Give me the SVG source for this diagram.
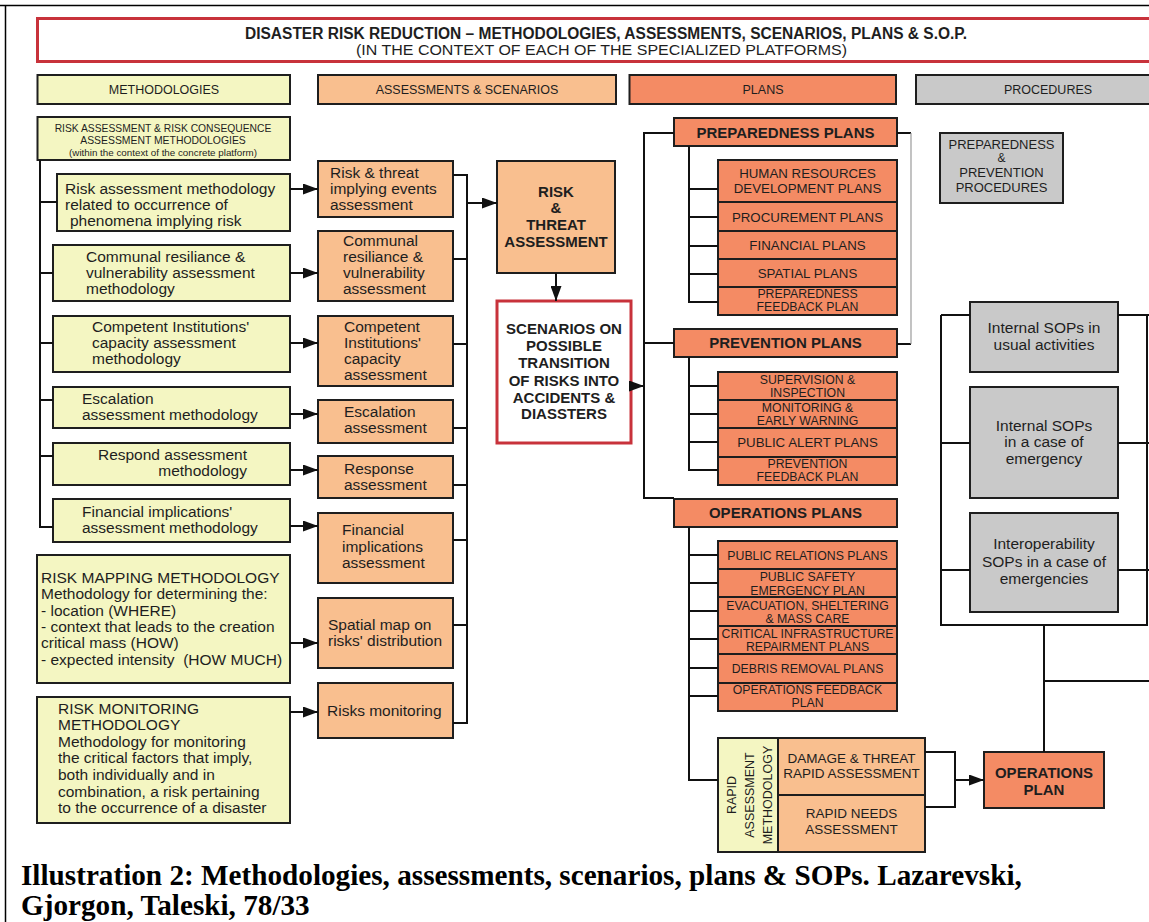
<svg xmlns="http://www.w3.org/2000/svg" width="1149" height="922" viewBox="0 0 1149 922">
<defs>
<marker id="arrow" markerUnits="userSpaceOnUse" markerWidth="15" markerHeight="11" refX="15" refY="5.5" orient="auto">
<path d="M0,0 L15,5.5 L0,11 z" fill="#111"/>
</marker>
<style>
.meth{fill:#f4f6c2;stroke:#1e1e1e;stroke-width:2}
.asm{fill:#f9bf8f;stroke:#1e1e1e;stroke-width:2}
.plan{fill:#f48b64;stroke:#1e1e1e;stroke-width:2}
.proc{fill:#c9c9c9;stroke:#1e1e1e;stroke-width:2}
.red{fill:#fff;stroke:#c8323b;stroke-width:3}
text{font-family:"Liberation Sans",Arial,Helvetica,sans-serif;fill:#1e1e1e}
.t{font-size:15.5px}
.r{text-anchor:end}
.hd{font-size:12.5px;text-anchor:middle}
.b{font-size:15px;font-weight:bold;text-anchor:middle}
.s13{font-size:13.3px;text-anchor:middle}
.s12{font-size:12.3px;text-anchor:middle}
.c{text-anchor:middle}
.wire{fill:none;stroke:#111;stroke-width:2}
.arr{fill:none;stroke:#111;stroke-width:2;marker-end:url(#arrow)}
.thin{fill:none;stroke:#9a9a9a;stroke-width:1.2}
.cap{font-family:"Liberation Serif","Times New Roman",serif;font-weight:bold;font-size:29.2px;fill:#000}
</style>
</defs>
<rect width="1149" height="922" fill="#fff"/>

<!-- page frame -->
<g id="frame"><path d="M0,5.5 H1149 M5.5,5.5 V922" fill="none" stroke="#000" stroke-width="1.5"/></g>

<!-- title banner -->
<g id="title">
<rect x="37.5" y="18.5" width="1130" height="43" class="red"/>
<text x="245" y="39" font-size="16" font-weight="bold" textLength="722" lengthAdjust="spacingAndGlyphs">DISASTER RISK REDUCTION – METHODOLOGIES, ASSESSMENTS, SCENARIOS, PLANS &amp; S.O.P.</text>
<text x="356" y="55" font-size="14.5" textLength="491" lengthAdjust="spacingAndGlyphs">(IN THE CONTEXT OF EACH OF THE SPECIALIZED PLATFORMS)</text>
</g>

<!-- column headers -->
<g id="hdr-methodologies"><rect x="37.5" y="75" width="252.5" height="29" class="meth"/><text x="164" y="94" class="hd">METHODOLOGIES</text></g>
<g id="hdr-assessments"><rect x="318" y="75" width="298" height="29" class="asm"/><text x="467" y="94" class="hd">ASSESSMENTS &amp; SCENARIOS</text></g>
<g id="hdr-plans"><rect x="629.5" y="75" width="266.5" height="29" class="plan"/><text x="763" y="94" class="hd">PLANS</text></g>
<g id="hdr-procedures"><rect x="916" y="75" width="250" height="29" class="proc"/><text x="1048" y="94" class="hd">PROCEDURES</text></g>

<!-- methodologies column -->
<g id="m-group">
<rect x="37.5" y="117" width="252.5" height="43" class="meth"/>
<text x="163" y="132" class="c" font-size="10.3">RISK ASSESSMENT &amp; RISK CONSEQUENCE</text>
<text x="163" y="144" class="c" font-size="10.4">ASSESSMENT METHODOLOGIES</text>
<text x="163" y="156" class="c" font-size="9.8">(within the context of the concrete platform)</text>
</g>
<g id="m-risk"><rect x="57" y="174" width="233" height="57" class="meth"/>
<text class="t" x="65" y="194">Risk assessment methodology</text><text class="t" x="65" y="210">related to occurrence of</text><text class="t" x="70" y="226">phenomena implying risk</text></g>
<g id="m-communal"><rect x="53" y="245" width="237" height="56" class="meth"/>
<text class="t" x="86" y="262">Communal resiliance &amp;</text><text class="t" x="86" y="278">vulnerability assessment</text><text class="t" x="86" y="294">methodology</text></g>
<g id="m-capacity"><rect x="53" y="316" width="237" height="56" class="meth"/>
<text class="t" x="92" y="332">Competent Institutions'</text><text class="t" x="92" y="348">capacity assessment</text><text class="t" x="92" y="364">methodology</text></g>
<g id="m-escalation"><rect x="53" y="387" width="237" height="41" class="meth"/>
<text class="t" x="82" y="404">Escalation</text><text class="t" x="82" y="420">assessment methodology</text></g>
<g id="m-respond"><rect x="53" y="443" width="237" height="42" class="meth"/>
<text class="t r" x="247" y="460">Respond assessment</text><text class="t r" x="247" y="476">methodology</text></g>
<g id="m-financial"><rect x="53" y="499" width="237" height="43" class="meth"/>
<text class="t" x="82" y="517">Financial implications'</text><text class="t" x="82" y="533">assessment methodology</text></g>
<g id="m-mapping"><rect x="37" y="555" width="253" height="128" class="meth"/>
<text class="t" x="41" y="583">RISK MAPPING METHODOLOGY</text>
<text class="t" x="41" y="599">Methodology for determining the:</text>
<text class="t" x="41" y="616">- location (WHERE)</text>
<text class="t" x="41" y="632">- context that leads to the creation</text>
<text class="t" x="41" y="648">critical mass (HOW)</text>
<text class="t" x="41" y="665">- expected intensity &#160;(HOW MUCH)</text></g>
<g id="m-monitoring"><rect x="37" y="697" width="253" height="126" class="meth"/>
<text class="t" x="58" y="714">RISK MONITORING</text>
<text class="t" x="58" y="730">METHODOLOGY</text>
<text class="t" x="58" y="747">Methodology for monitoring</text>
<text class="t" x="58" y="763">the critical factors that imply,</text>
<text class="t" x="58" y="780">both individually and in</text>
<text class="t" x="58" y="797">combination, a risk pertaining</text>
<text class="t" x="58" y="813">to the occurrence of a disaster</text></g>

<!-- assessments column -->
<g id="a-risk"><rect x="318" y="161" width="135" height="56" class="asm"/>
<text class="t" x="330" y="178">Risk &amp; threat</text><text class="t" x="330" y="194">implying events</text><text class="t" x="330" y="210">assessment</text></g>
<g id="a-communal"><rect x="318" y="231" width="135" height="70" class="asm"/>
<text class="t" x="343" y="246">Communal</text><text class="t" x="343" y="262">resiliance &amp;</text><text class="t" x="343" y="278">vulnerability</text><text class="t" x="343" y="294">assessment</text></g>
<g id="a-capacity"><rect x="318" y="316" width="135" height="70" class="asm"/>
<text class="t" x="344" y="332">Competent</text><text class="t" x="344" y="348">Institutions'</text><text class="t" x="344" y="364">capacity</text><text class="t" x="344" y="380">assessment</text></g>
<g id="a-escalation"><rect x="318" y="400" width="135" height="43" class="asm"/>
<text class="t" x="344" y="417">Escalation</text><text class="t" x="344" y="433">assessment</text></g>
<g id="a-response"><rect x="318" y="456" width="135" height="42" class="asm"/>
<text class="t" x="344" y="474">Response</text><text class="t" x="344" y="490">assessment</text></g>
<g id="a-financial"><rect x="318" y="513" width="135" height="70" class="asm"/>
<text class="t" x="342" y="535">Financial</text><text class="t" x="342" y="552">implications</text><text class="t" x="342" y="568">assessment</text></g>
<g id="a-spatial"><rect x="318" y="598" width="135" height="70" class="asm"/>
<text class="t" x="328" y="630">Spatial map on</text><text class="t" x="328" y="646">risks' distribution</text></g>
<g id="a-monitoring"><rect x="318" y="683" width="135" height="55" class="asm"/>
<text class="t" x="327" y="716">Risks monitoring</text></g>

<g id="risk-threat"><rect x="497" y="161" width="118" height="112" class="asm"/>
<text class="b" x="556" y="197">RISK</text><text class="b" x="556" y="213">&amp;</text><text class="b" x="556" y="230">THREAT</text><text class="b" x="556" y="247">ASSESSMENT</text></g>
<g id="scenarios"><rect x="497" y="301" width="134" height="142" class="red"/>
<text class="b" x="564" y="334">SCENARIOS ON</text><text class="b" x="564" y="351">POSSIBLE</text><text class="b" x="564" y="368">TRANSITION</text>
<text class="b" x="564" y="386">OF RISKS INTO</text><text class="b" x="564" y="403">ACCIDENTS &amp;</text><text class="b" x="564" y="419">DIASSTERS</text></g>

<!-- plans column -->
<g id="p-preparedness"><rect x="674" y="118" width="223" height="28" class="plan"/><text class="b" x="785.5" y="138">PREPAREDNESS PLANS</text></g>
<g id="p-prep-items">
<rect x="718" y="160" width="179" height="42" class="plan"/><text class="s13" x="807.5" y="178">HUMAN RESOURCES</text><text class="s13" x="807.5" y="193">DEVELOPMENT PLANS</text>
<rect x="718" y="202" width="179" height="29" class="plan"/><text class="s13" x="807.5" y="222">PROCUREMENT PLANS</text>
<rect x="718" y="231" width="179" height="28" class="plan"/><text class="s13" x="807.5" y="250">FINANCIAL PLANS</text>
<rect x="718" y="259" width="179" height="28" class="plan"/><text class="s13" x="807.5" y="278">SPATIAL PLANS</text>
<rect x="718" y="287" width="179" height="28" class="plan"/><text class="s12" x="807.5" y="297.5">PREPAREDNESS</text><text class="s12" x="807.5" y="311">FEEDBACK PLAN</text>
</g>
<g id="p-prevention"><rect x="674" y="329" width="223" height="28" class="plan"/><text class="b" x="785.5" y="348">PREVENTION PLANS</text></g>
<g id="p-prev-items">
<rect x="718" y="372" width="179" height="28" class="plan"/><text class="s12" x="807.5" y="383.5">SUPERVISION &amp;</text><text class="s12" x="807.5" y="397">INSPECTION</text>
<rect x="718" y="400" width="179" height="28" class="plan"/><text class="s12" x="807.5" y="411.5">MONITORING &amp;</text><text class="s12" x="807.5" y="425">EARLY WARNING</text>
<rect x="718" y="428" width="179" height="29" class="plan"/><text class="s13" x="807.5" y="447">PUBLIC ALERT PLANS</text>
<rect x="718" y="457" width="179" height="28" class="plan"/><text class="s12" x="807.5" y="467.5">PREVENTION</text><text class="s12" x="807.5" y="481">FEEDBACK PLAN</text>
</g>
<g id="p-operations"><rect x="674" y="499" width="223" height="28" class="plan"/><text class="b" x="785.5" y="518">OPERATIONS PLANS</text></g>
<g id="p-ops-items">
<rect x="718" y="541" width="179" height="28" class="plan"/><text class="s12" x="807.5" y="559.5">PUBLIC RELATIONS PLANS</text>
<rect x="718" y="569" width="179" height="28" class="plan"/><text class="s12" x="807.5" y="581">PUBLIC SAFETY</text><text class="s12" x="807.5" y="594.5">EMERGENCY PLAN</text>
<rect x="718" y="597" width="179" height="29" class="plan"/><text class="s12" x="807.5" y="609.5">EVACUATION, SHELTERING</text><text class="s12" x="807.5" y="623">&amp; MASS CARE</text>
<rect x="718" y="626" width="179" height="28" class="plan"/><text class="s12" x="807.5" y="637.5" textLength="172" lengthAdjust="spacingAndGlyphs">CRITICAL INFRASTRUCTURE</text><text class="s12" x="807.5" y="651">REPAIRMENT PLANS</text>
<rect x="718" y="654" width="179" height="29" class="plan"/><text class="s12" x="807.5" y="672.5">DEBRIS REMOVAL PLANS</text>
<rect x="718" y="683" width="179" height="28" class="plan"/><text class="s12" x="807.5" y="693.5">OPERATIONS FEEDBACK</text><text class="s12" x="807.5" y="707">PLAN</text>
</g>

<!-- rapid assessment block -->
<g id="rapid-method"><rect x="718" y="738" width="60" height="114" class="meth"/>
<text class="c" font-size="12.5" transform="translate(736,795) rotate(-90)">RAPID</text>
<text class="c" font-size="12.5" transform="translate(754,795) rotate(-90)">ASSESSMENT</text>
<text class="c" font-size="12.5" transform="translate(772,795) rotate(-90)">METHODOLOGY</text></g>
<g id="rapid-damage"><rect x="778" y="738" width="147" height="57" class="asm"/>
<text class="c" font-size="13.5" x="851.5" y="763">DAMAGE &amp; THREAT</text><text class="c" font-size="13.5" x="851.5" y="778">RAPID ASSESSMENT</text></g>
<g id="rapid-needs"><rect x="778" y="795" width="147" height="57" class="asm"/>
<text class="c" font-size="13.5" x="851.5" y="818">RAPID NEEDS</text><text class="c" font-size="13.5" x="851.5" y="834">ASSESSMENT</text></g>
<g id="operations-plan"><rect x="984" y="752" width="120" height="56" class="plan"/>
<text class="b" x="1044" y="778">OPERATIONS</text><text class="b" x="1044" y="795">PLAN</text></g>

<!-- procedures column -->
<g id="proc-prep"><rect x="940" y="133" width="123" height="70" class="proc"/>
<text class="c" font-size="13" x="1001.5" y="149">PREPAREDNESS</text><text class="c" font-size="12" x="1001.5" y="162">&amp;</text>
<text class="c" font-size="13" x="1001.5" y="177">PREVENTION</text><text class="c" font-size="13" x="1001.5" y="192">PROCEDURES</text></g>
<g id="sop-usual"><rect x="970" y="302" width="148" height="70" class="proc"/>
<text class="t c" x="1044" y="333">Internal SOPs in</text><text class="t c" x="1044" y="350">usual activities</text></g>
<g id="sop-emergency"><rect x="970" y="387" width="148" height="111" class="proc"/>
<text class="t c" x="1044" y="431">Internal SOPs</text><text class="t c" x="1044" y="447">in a case of</text><text class="t c" x="1044" y="464">emergency</text></g>
<g id="sop-interop"><rect x="970" y="513" width="148" height="99" class="proc"/>
<text class="t c" x="1044" y="549">Interoperability</text><text class="t c" x="1044" y="567">SOPs in a case of</text><text class="t c" x="1044" y="584">emergencies</text></g>

<!-- connectors -->
<g id="connectors">
<path class="wire" d="M40,160 V527 H53 M40,202 H57 M40,273 H53 M40,343 H53 M40,400 H53 M40,456 H53"/>
<path class="arr" d="M290,189 H318"/>
<path class="arr" d="M290,273 H318"/>
<path class="arr" d="M290,343 H318"/>
<path class="arr" d="M290,414 H318"/>
<path class="arr" d="M290,470 H318"/>
<path class="arr" d="M290,526 H318"/>
<path class="arr" d="M290,643 H318"/>
<path class="arr" d="M290,712 H318"/>
<path class="wire" d="M453,175 H467 V723 H453 M453,259 H467 M453,344 H467 M453,428 H467 M453,485 H467 M453,540 H467 M453,625 H467"/>
<path class="arr" d="M467,203 H497"/>
<path class="arr" d="M556,273 V301"/>
<path class="arr" d="M629,386 H644"/>
<path class="wire" d="M674,133 H644 V498 H674 M644,343 H674"/>
<path class="wire" d="M897,133 H911 M897,344 H911"/>
<path class="thin" d="M911,133 V344"/>
<path class="wire" d="M689,146 V302 H718 M689,189 H718 M689,217 H718 M689,246 H718 M689,274 H718"/>
<path class="wire" d="M689,357 V470 H718 M689,386 H718 M689,414 H718 M689,442 H718"/>
<path class="wire" d="M689,527 V780 H718 M689,555 H718 M689,583 H718 M689,611 H718 M689,639 H718 M689,668 H718 M689,696 H718"/>
<path class="wire" d="M925,752 H955 V807 H925"/>
<path class="arr" d="M955,780 H984"/>
<path class="wire" d="M941,315 V625 H1147 V315 M941,315 H970 M941,443 H970 M941,570 H970 M1118,315 H1149 M1118,443 H1149 M1118,570 H1149"/>
<path class="wire" d="M1044,625 V752 M1044,681 H1149"/>
</g>

<!-- caption -->
<g id="caption">
<text class="cap" x="21" y="885">Illustration 2: Methodologies, assessments, scenarios, plans &amp; SOPs. Lazarevski,</text>
<text class="cap" x="21" y="915">Gjorgon, Taleski, 78/33</text>
</g>
</svg>
